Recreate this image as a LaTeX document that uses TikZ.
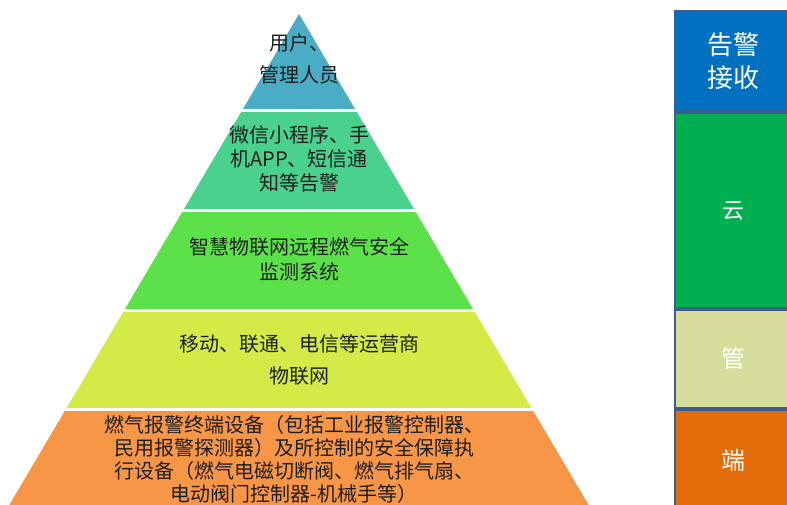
\documentclass[tikz,border=0pt]{standalone}
\usepackage{fontspec}
\setmainfont{Noto Sans CJK SC}
\definecolor{cA}{HTML}{4BACC6}
\definecolor{cB}{HTML}{4AD18D}
\definecolor{cC}{HTML}{5DE14B}
\definecolor{cD}{HTML}{D4EB47}
\definecolor{cE}{HTML}{F79646}
\definecolor{rA}{HTML}{0070C0}
\definecolor{rB}{HTML}{00B050}
\definecolor{rC}{HTML}{D7DE9B}
\definecolor{rD}{HTML}{E46C0A}
\definecolor{rborder}{HTML}{3B5E8C}
\definecolor{ptext}{HTML}{1E1E1E}
\tikzset{
  ptxt/.style={text=ptext, align=center, inner sep=0pt},
  rtxt/.style={text=white, align=center, inner sep=0pt},
  rbox/.style={draw=rborder, line width=2pt},
}
\begin{document}
\begin{tikzpicture}[x=1pt,y=-1pt]
\useasboundingbox (0,0) rectangle (787,504);
\clip (0,0) rectangle (787,504);
% pyramid
\begin{scope}
  \clip (299,14) -- (299+0.59*500,514) -- (299-0.59*500,514) -- cycle;
  \fill[cA] (0,0) rectangle (787,109);
  \fill[cB] (0,112) rectangle (787,209);
  \fill[cC] (0,212) rectangle (787,309);
  \fill[cD] (0,312) rectangle (787,408);
  \fill[cE] (0,411) rectangle (787,520);
\end{scope}
\node[ptxt, font=\fontsize{20}{32}\selectfont] (t1) at (299,59) {用户、\\管理人员};
\node[ptxt, font=\fontsize{20}{24}\selectfont] (t2) at (299,159) {微信小程序、手\\机APP、短信通\\知等告警};
\node[ptxt, font=\fontsize{20}{25}\selectfont] (t3) at (299,259) {智慧物联网远程燃气安全\\监测系统};
\node[ptxt, font=\fontsize{20}{32}\selectfont] (t4) at (299,360) {移动、联通、电信等运营商\\物联网};
\node[ptxt, font=\fontsize{20}{23}\selectfont] (t5) at (294,459) {燃气报警终端设备（包括工业报警控制器、\\民用报警探测器）及所控制的安全保障执\\行设备（燃气电磁切断阀、燃气排气扇、\\电动阀门控制器-机械手等）};
% right column
\fill[rA] (675,11) rectangle (792,111);
\draw[rbox] (675,11) rectangle (792,111);
\fill[rB] (675,113) rectangle (792,308);
\draw[rbox] (675,113) rectangle (792,308);
\fill[rC] (675,310) rectangle (792,408);
\draw[rbox] (675,310) rectangle (792,408);
\fill[rD] (675,410) rectangle (792,520);
\draw[rbox] (675,410) rectangle (792,520);
\node[rtxt, font=\fontsize{26}{33}\selectfont] (r1) at (733,61) {告警\\接收};
\node[rtxt, font=\fontsize{22}{26}\selectfont] (r2) at (733,211) {云};
\node[rtxt, font=\fontsize{24}{28}\selectfont] (r3) at (733,358) {管};
\node[rtxt, font=\fontsize{24}{28}\selectfont] (r4) at (733,460) {端};
\end{tikzpicture}
\end{document}
